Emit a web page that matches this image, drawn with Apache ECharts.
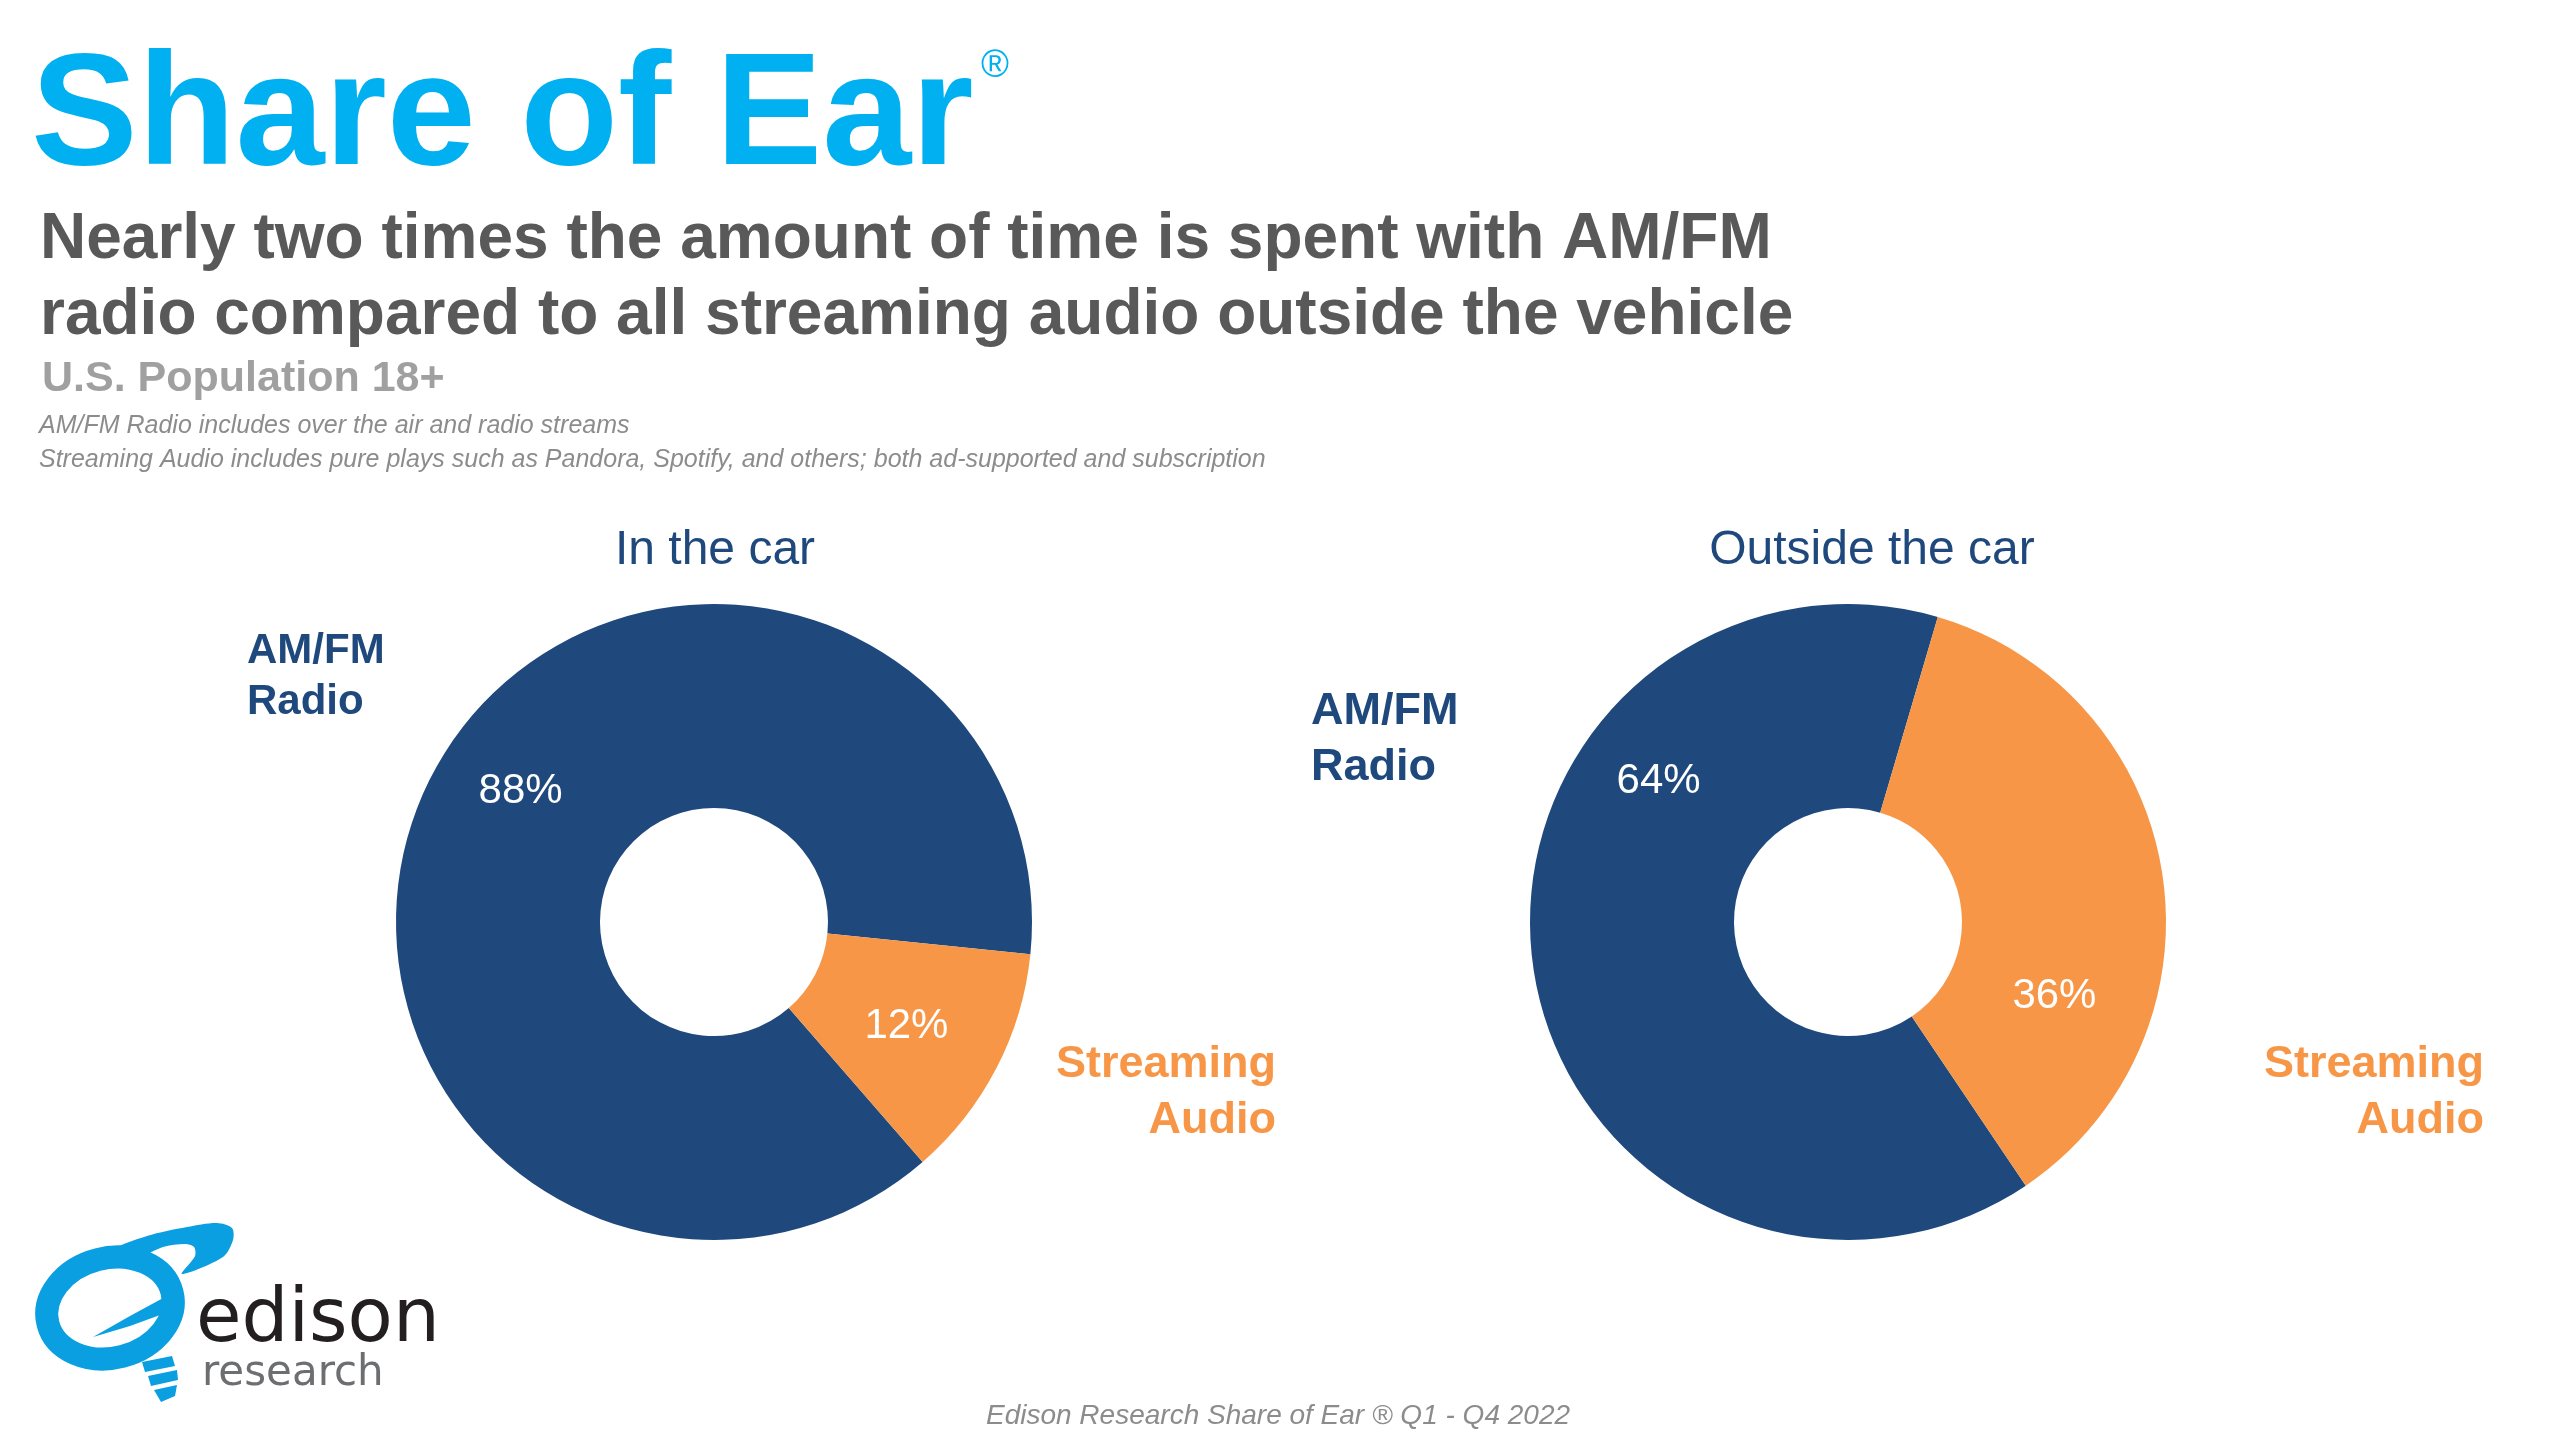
<!DOCTYPE html>
<html lang="en">
  <head>
    <meta charset="UTF-8" />
    <title>Share of Ear</title>
    <script src="https://cdn.jsdelivr.net/npm/echarts@6/dist/echarts.min.js"></script>
    <style>
      html,
      body {
        margin: 0;
        padding: 0;
        background: #ffffff;
      }
      #chart {
        width: 2560px;
        height: 1440px;
      }
    </style>
  </head>
  <body>
    <div id="chart"></div>
    <script type="text/javascript">
      // data
      const categories = ["AM/FM Radio", "Streaming Audio"];
      const inCar = [88, 12];
      const outsideCar = [64, 36];
      const panelTitles = ["In the car", "Outside the car"];

      const FONT = "Liberation Sans, Arial, sans-serif";
      const NAVY = "#1F497D";
      const ORANGE = "#F79646";
      const CYAN = "#00B0F0";
      const LOGO = "#0A9FE0";
      const sliceColors = [NAVY, ORANGE];

      const dom = document.getElementById("chart");
      const myChart = echarts.init(dom, null, { renderer: "canvas" });

      // text helper for graphic elements
      const txt = (t, x, y, size, color, o = {}) => ({
        type: "text",
        x: x,
        y: y,
        silent: true,
        z: 10,
        style: {
          text: t,
          fill: color,
          fontSize: size,
          fontFamily: o.family || FONT,
          fontWeight: o.weight || "normal",
          fontStyle: o.italic ? "italic" : "normal",
          align: o.align || "left",
          textAlign: o.align || "left",
          verticalAlign: "middle",
          textVerticalAlign: "middle",
          lineHeight: o.lh || Math.round(size * 1.2),
        },
      });

      const blob = (points, smooth) => ({
        type: "polygon",
        silent: true,
        shape: { points: points, smooth: smooth || 0 },
        style: { fill: LOGO },
      });

      // one donut per panel
      const makePie = (values, center, startAngle, offsets) => ({
        type: "pie",
        center: center,
        radius: [114, 318],
        startAngle: startAngle,
        clockwise: true,
        silent: true,
        animation: false,
        avoidLabelOverlap: false,
        labelLine: { show: false },
        itemStyle: { borderWidth: 0 },
        label: {
          show: true,
          position: "inside",
          formatter: "{c}%",
          color: "#ffffff",
          fontSize: 42,
          fontFamily: FONT,
        },
        emphasis: { disabled: true },
        data: categories.map((name, i) => ({
          name: name,
          value: values[i],
          itemStyle: { color: sliceColors[i] },
          label: { offset: offsets[i] },
        })),
      });

      const twoLines = (s) => s.replace(" ", "\n");

      const options = {
        animation: false,
        series: [
          makePie(inCar, [714, 922], 311, [[1, -30], [-2, 4]]),
          makePie(outsideCar, [1848, 922], 304, [[27, -174], [-10, 108]]),
        ],
        graphic: [
          // headings
          txt("Share of Ear", 31, 120, 160, CYAN, { weight: "bold" }),
          txt("®", 981, 67, 38, CYAN),
          txt(
            "Nearly two times the amount of time is spent with AM/FM\nradio compared to all streaming audio outside the vehicle",
            40,
            278,
            64,
            "#595959",
            { weight: "bold", lh: 76 }
          ),
          txt("U.S. Population 18+", 42, 379, 43, "#A0A0A0", { weight: "bold" }),
          txt("AM/FM Radio includes over the air and radio streams", 39, 426, 25, "#8C8C8C", { italic: true }),
          txt(
            "Streaming Audio includes pure plays such as Pandora, Spotify, and others; both ad-supported and subscription",
            39,
            460,
            25,
            "#8C8C8C",
            { italic: true }
          ),
          // panel titles
          txt(panelTitles[0], 715, 551, 48, NAVY, { align: "center" }),
          txt(panelTitles[1], 1872, 551, 48, NAVY, { align: "center" }),
          // category labels
          txt(twoLines(categories[0]), 247, 677, 42, NAVY, { weight: "bold", lh: 51 }),
          txt(twoLines(categories[1]), 1276, 1093, 45, ORANGE, { weight: "bold", lh: 56, align: "right" }),
          txt(twoLines(categories[0]), 1311, 740, 45, NAVY, { weight: "bold", lh: 56 }),
          txt(twoLines(categories[1]), 2484, 1093, 45, ORANGE, { weight: "bold", lh: 56, align: "right" }),
          // source
          txt("Edison Research Share of Ear ® Q1 - Q4 2022", 1278, 1416, 28, "#8C8C8C", {
            italic: true,
            align: "center",
          }),
          // logo
          {
            type: "ellipse",
            silent: true,
            x: 110,
            y: 1308,
            rotation: 0.25,
            shape: { cx: 0, cy: 0, rx: 64, ry: 50 },
            style: { fill: "none", stroke: LOGO, lineWidth: 23 },
          },
          blob(
            [
              [113, 1250],
              [147, 1236],
              [187, 1227],
              [217, 1223],
              [232, 1228],
              [233, 1240],
              [223, 1257],
              [182, 1274],
              [195, 1256],
              [194, 1247],
              [185, 1244],
              [163, 1247],
              [140, 1256],
            ],
            0.3
          ),
          blob([
            [93, 1337],
            [130, 1316],
            [165, 1297],
            [171, 1311],
            [130, 1326],
          ]),
          blob([
            [142, 1362],
            [172, 1356],
            [175, 1366],
            [145, 1372],
          ]),
          blob([
            [148, 1376],
            [177, 1370],
            [178, 1380],
            [151, 1386],
          ]),
          blob([
            [154, 1390],
            [177, 1385],
            [175, 1396],
            [161, 1402],
          ]),
          txt("edison", 196, 1322, 74, "#231F20", { family: "DejaVu Sans" }),
          txt("research", 202, 1374, 42, "#6D6E71", { family: "DejaVu Sans" }),
        ],
      };
      if (options && typeof options === "object") {
        myChart.setOption(options);
      }
    </script>
  </body>
</html>
